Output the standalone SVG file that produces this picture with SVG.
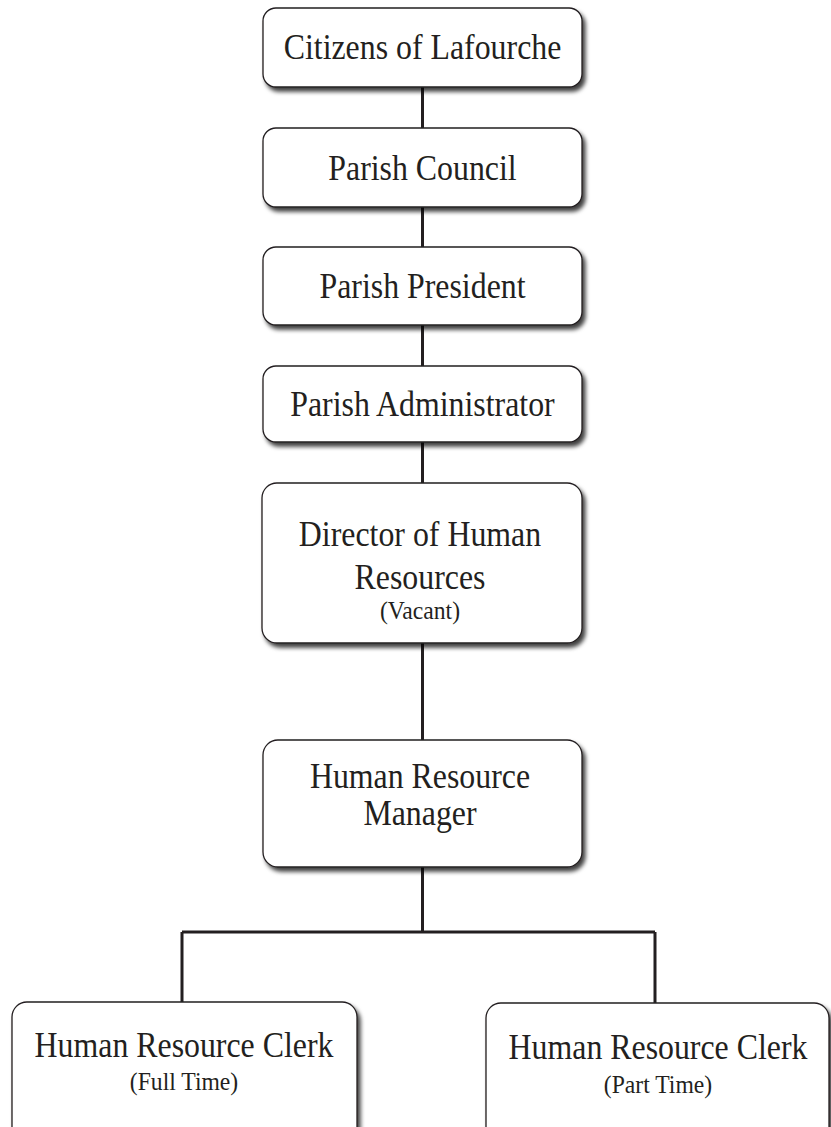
<svg xmlns="http://www.w3.org/2000/svg" width="831" height="1127" viewBox="0 0 831 1127">
<defs>
<filter id="sh" x="-10%" y="-10%" width="125%" height="130%">
<feDropShadow dx="3" dy="4" stdDeviation="2.2" flood-color="#000" flood-opacity="0.75"/>
</filter>
<style>
.box{fill:#fff;stroke:#231f20;stroke-width:1.3;filter:url(#sh)}
.t{font-family:"Liberation Serif","Times New Roman",serif;font-size:35px;fill:#231f20;text-anchor:middle}
.s{font-family:"Liberation Serif","Times New Roman",serif;font-size:26px;fill:#231f20;text-anchor:middle}
.c{fill:none;stroke:#231f20;stroke-width:3}
</style>
</defs>
<rect width="831" height="1127" fill="#fff"/>
<g id="connectors">
<path class="c" d="M422.5 87V128M422.5 207V247M422.5 325V366M422.5 442V483M422.5 643V740M422.5 867V932M182 932H655M182 932V1002M655 932V1003"/>
</g>
<g id="citizens">
<rect class="box" x="263" y="8" width="319" height="79" rx="13"/>
<text class="t" transform="translate(422.5 59) scale(0.91 1)">Citizens of Lafourche</text>
</g>
<g id="council">
<rect class="box" x="263" y="128" width="319" height="79" rx="13"/>
<text class="t" transform="translate(422.5 180) scale(0.91 1)">Parish Council</text>
</g>
<g id="president">
<rect class="box" x="263" y="247" width="319" height="78" rx="13"/>
<text class="t" transform="translate(422.5 298) scale(0.91 1)">Parish President</text>
</g>
<g id="administrator">
<rect class="box" x="263" y="366" width="319" height="76" rx="13"/>
<text class="t" transform="translate(422.5 416) scale(0.91 1)">Parish Administrator</text>
</g>
<g id="director">
<rect class="box" x="262" y="483" width="320" height="160" rx="15"/>
<text class="t" transform="translate(420 546) scale(0.91 1)">Director of Human</text>
<text class="t" transform="translate(420 589) scale(0.91 1)">Resources</text>
<text class="s" transform="translate(420 619) scale(0.91 1)">(Vacant)</text>
</g>
<g id="manager">
<rect class="box" x="263" y="740" width="319" height="127" rx="15"/>
<text class="t" transform="translate(420 788) scale(0.91 1)">Human Resource</text>
<text class="t" transform="translate(420 825) scale(0.91 1)">Manager</text>
</g>
<g id="clerk-full">
<rect class="box" x="12" y="1002" width="345" height="150" rx="15"/>
<text class="t" transform="translate(184 1057) scale(0.91 1)">Human Resource Clerk</text>
<text class="s" transform="translate(184 1090) scale(0.91 1)">(Full Time)</text>
</g>
<g id="clerk-part">
<rect class="box" x="486" y="1003" width="343" height="150" rx="15"/>
<text class="t" transform="translate(658 1059) scale(0.91 1)">Human Resource Clerk</text>
<text class="s" transform="translate(658 1093) scale(0.91 1)">(Part Time)</text>
</g>
</svg>
